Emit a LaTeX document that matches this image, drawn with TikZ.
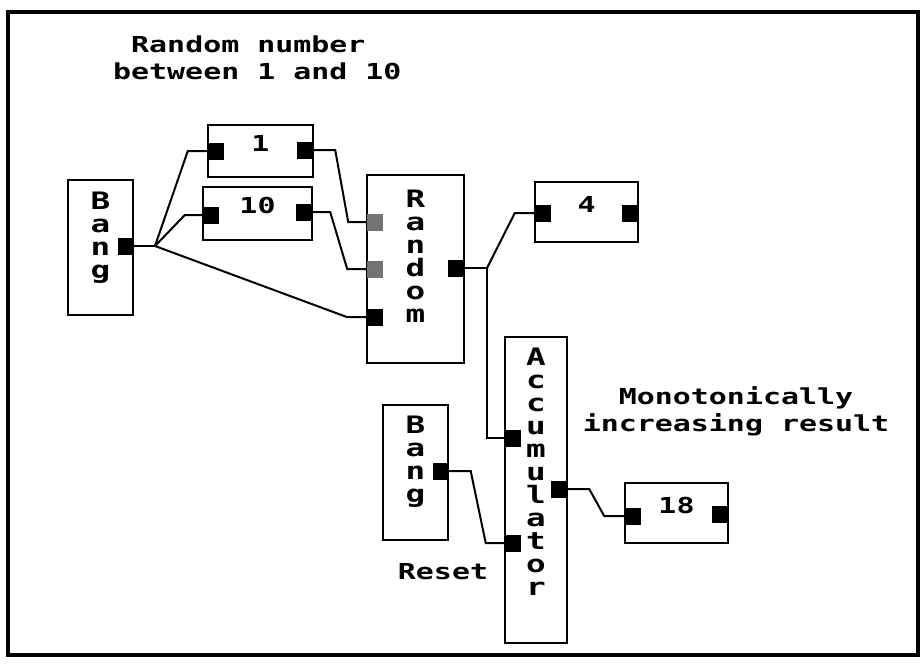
\documentclass[tikz,border=0pt]{standalone}
\usepackage{fontspec}
\newfontfamily\pixfont[FakeStretch=1.36]{DejaVu Sans Mono}
\usetikzlibrary{positioning}

\begin{document}
\begin{tikzpicture}[
  x=1pt,y=-1pt,
  blk/.style={draw,line width=2.6pt,inner sep=0pt},
  port/.style={fill=black,minimum width=16pt,minimum height=17pt,inner sep=0pt},
  hport/.style={port,fill=black!55},
  wire/.style={line width=2pt},
  lbl/.style={font=\pixfont\bfseries\fontsize{22}{27}\selectfont,inner sep=0pt},
  vlbl/.style={font=\pixfont\bfseries\fontsize{24}{23}\selectfont,align=center,inner sep=0pt}
]
  \useasboundingbox (0,0) rectangle (920,667);
  % Frame
  \draw[line width=3.5pt] (8,12) rectangle (918,655);

  % Notes
  \node[lbl,align=left,anchor=north west] (note1) at (113,36) {~Random number\\between 1 and 10};
  \node[lbl,align=center,anchor=north] (note2) at (736,386) {Monotonically\\increasing result};
  \node[lbl,anchor=base] (note3) at (443,579) {Reset};

  % Bang (top)
  \node[blk,minimum width=65pt,minimum height=135pt] (bang1) at (100.5,247.5) {};
  \node[vlbl,below=13pt of bang1.north] {B\\a\\n\\g};
  \node[port] (bang1o) at (125.5,246) {};

  % Constant 1
  \node[blk,minimum width=105pt,minimum height=52pt] (one) at (260.5,151) {};
  \node[lbl] at ([yshift=8pt]one.center) {1};
  \node[port] (onei) at (216,151) {};
  \node[port] (oneo) at (305,150) {};

  % Constant 10
  \node[blk,minimum width=109pt,minimum height=53pt] (ten) at (257.5,213.5) {};
  \node[lbl] at ([yshift=8pt]ten.center) {10};
  \node[port] (teni) at (211,215) {};
  \node[port] (teno) at (304,212) {};

  % Random
  \node[blk,minimum width=97pt,minimum height=188pt] (rnd) at (415.5,269) {};
  \node[vlbl,below=16pt of rnd.north] {R\\a\\n\\d\\o\\m};
  \node[hport] (rndi1) at (375,222) {};
  \node[hport] (rndi2) at (375,269) {};
  \node[port] (rndi3) at (375,317) {};
  \node[port] (rndo) at (456,268) {};

  % Display 4
  \node[blk,minimum width=103pt,minimum height=60pt] (four) at (586.5,212) {};
  \node[lbl] at ([yshift=8pt]four.center) {4};
  \node[port] (fouri) at (543,213) {};
  \node[port] (fouro) at (630,213) {};

  % Accumulator
  \node[blk,minimum width=62pt,minimum height=306pt] (acc) at (536,490) {};
  \node[vlbl,below=12pt of acc.north] {A\\c\\c\\u\\m\\u\\l\\a\\t\\o\\r};
  \node[port] (acci1) at (513,438) {};
  \node[port] (acci2) at (513,543) {};
  \node[port] (acco) at (559,489) {};

  % Bang (reset)
  \node[blk,minimum width=65pt,minimum height=135pt] (bang2) at (415.5,472.5) {};
  \node[vlbl,below=12pt of bang2.north] {B\\a\\n\\g};
  \node[port] (bang2o) at (440.5,471) {};

  % Display 18
  \node[blk,minimum width=103pt,minimum height=60pt] (res) at (676.5,513) {};
  \node[lbl] at ([yshift=8pt]res.center) {18};
  \node[port] (resi) at (633,516) {};
  \node[port] (reso) at (720,514) {};

  % Junctions
  \coordinate (j1) at (155,246);
  \coordinate (j2) at (487,268);

  % Wires
  \draw[wire] (bang1o.east) -- (j1);
  \draw[wire] (onei.west) -- ++(-20,0) -- (j1);
  \draw[wire] (teni.west) -- ++(-18,0) -- (j1);
  \draw[wire] (rndi3.west) -- ++(-20,0) -- (j1);
  \draw[wire] (oneo.east) -- ++(22,0) -- ++(13,72) -- (rndi1.west);
  \draw[wire] (teno.east) -- ++(18,0) -- ++(17,57) -- (rndi2.west);
  \draw[wire] (rndo.east) -- (j2);
  \draw[wire] (fouri.west) -- ++(-20,0) -- (j2);
  \draw[wire] (j2) |- (acci1.west);
  \draw[wire] (bang2o.east) -- ++(22,0) -- ++(15,72) -- (acci2.west);
  \draw[wire] (acco.east) -- ++(22,0) -- ++(15,27) -- (resi.west);
\end{tikzpicture}
\end{document}
